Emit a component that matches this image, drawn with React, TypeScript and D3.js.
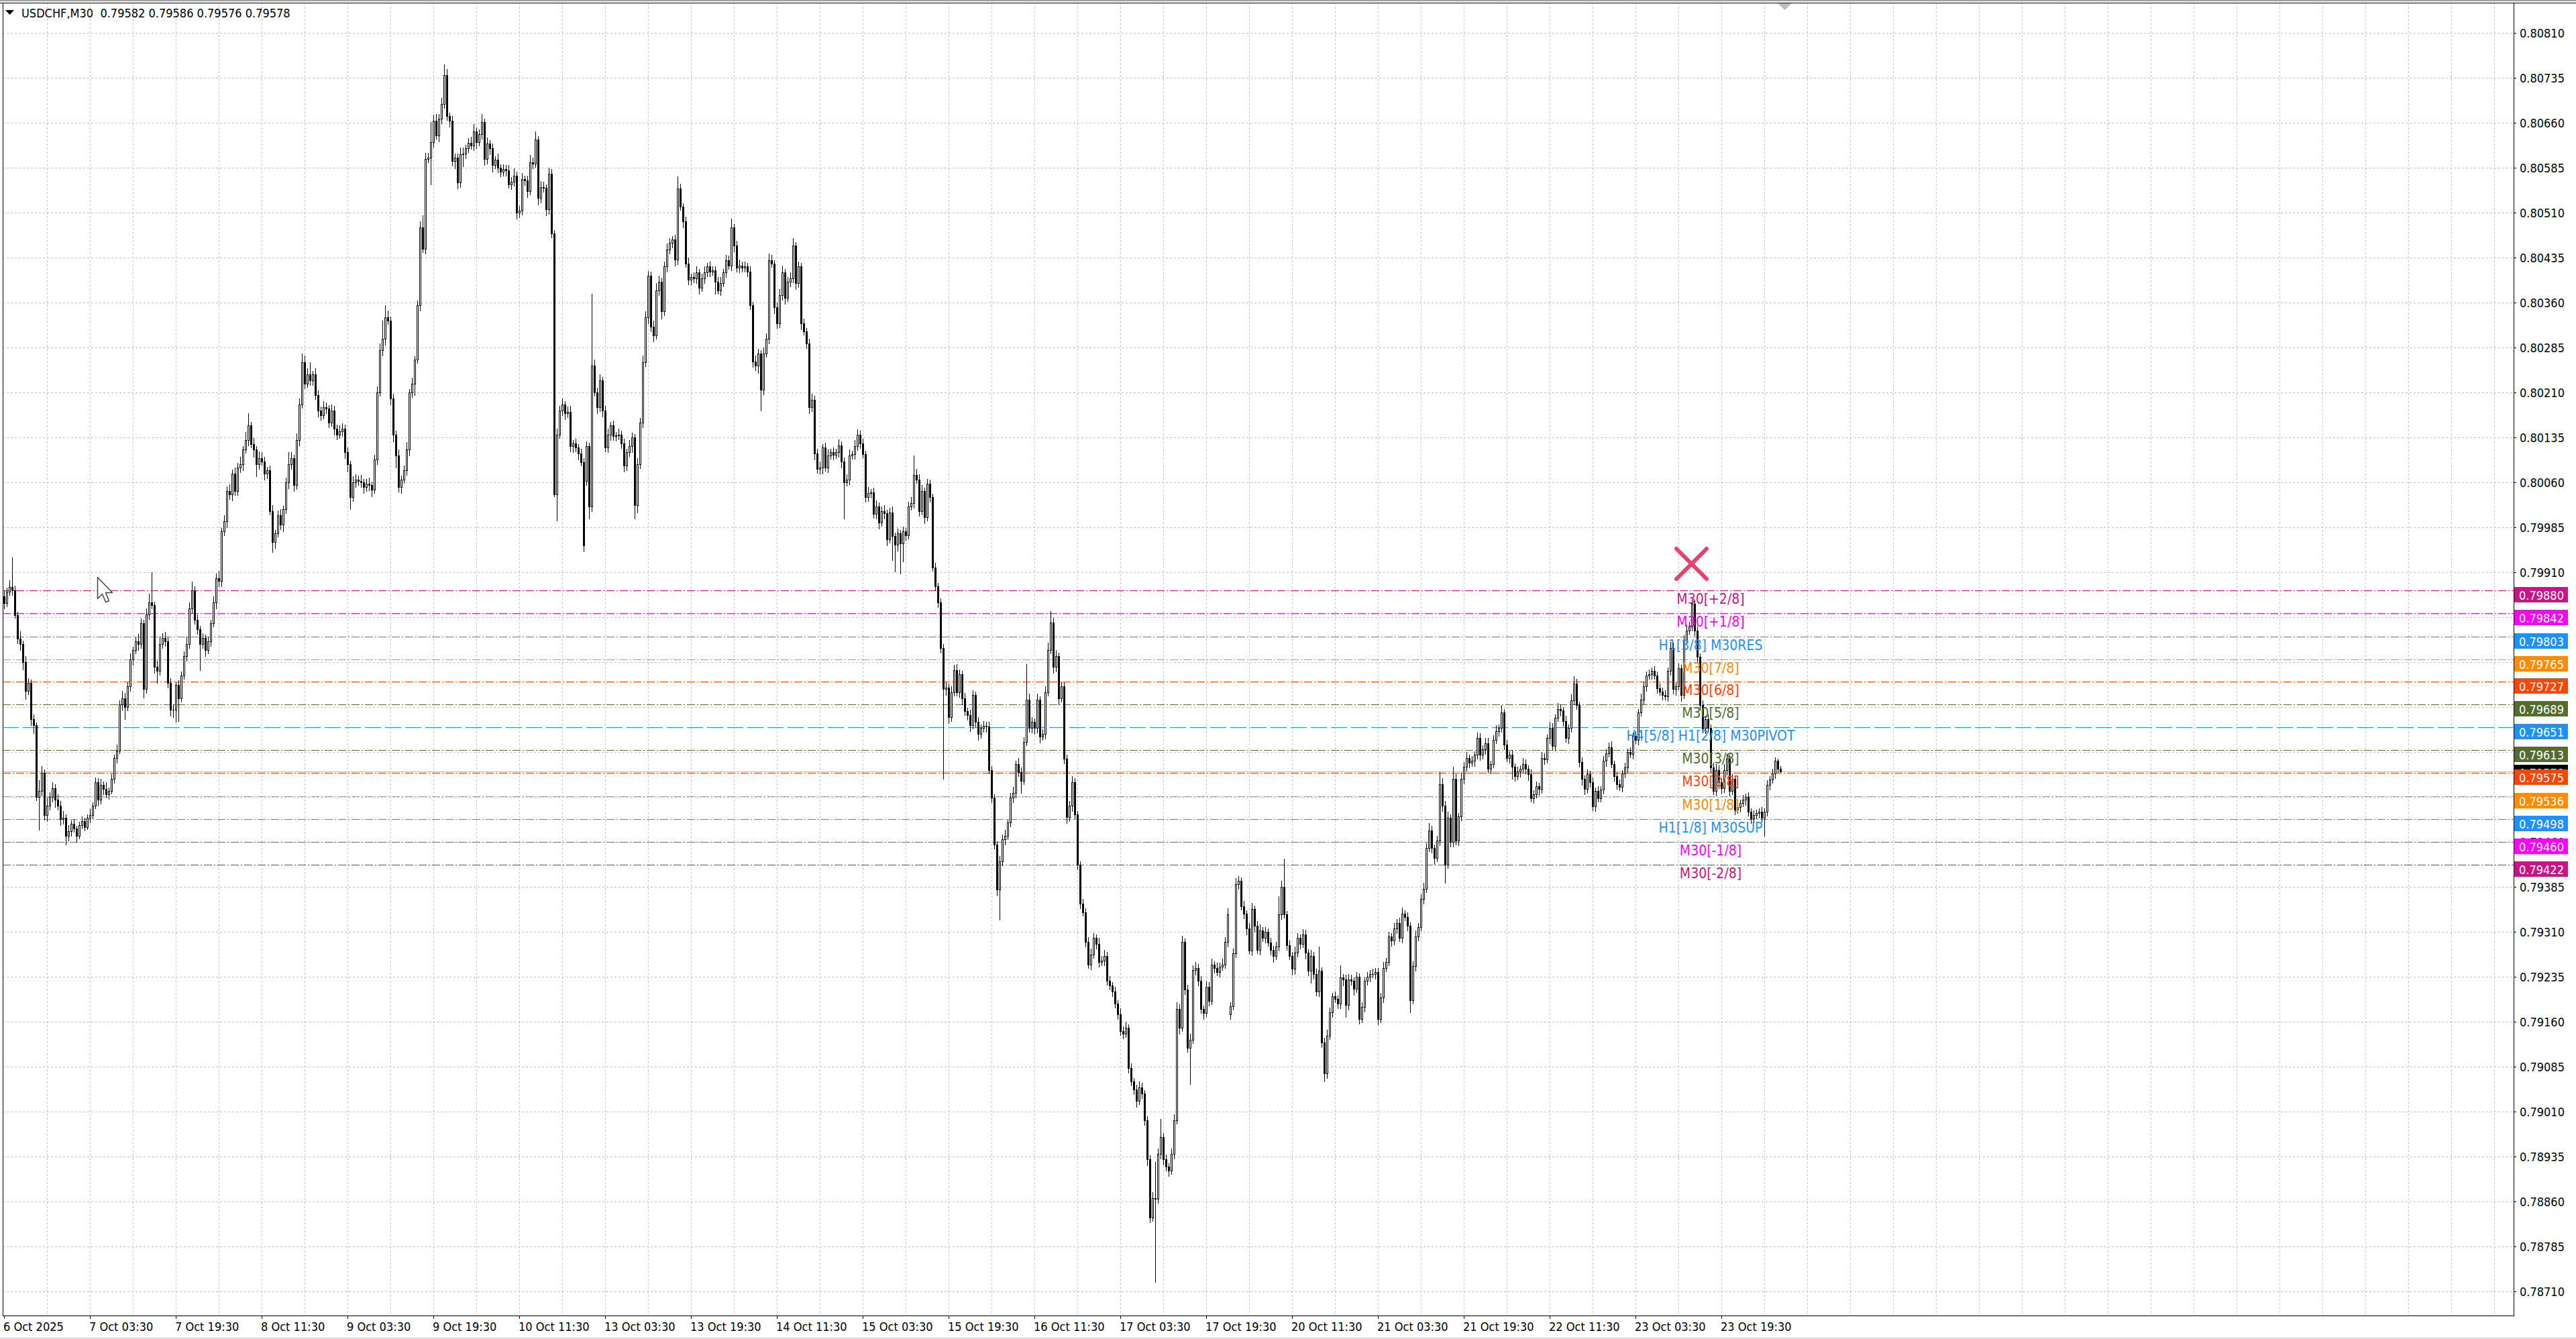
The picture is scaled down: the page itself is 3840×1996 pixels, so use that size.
import { useEffect, useRef } from 'react';
import * as d3 from 'd3';

// One M30 bar: [close, upper wick, lower wick], all in points (1 point = 0.00001)
type Candle = [number, number, number];

const oct06: Candle[] = [
  [79858, 10, 8], [79878, 6, 5], [79885, 12, 6], [79880, 50, 8], [79838, 8, 4], [79799, 6, 8], [79790, 12, 10], [79760, 6, 12],
  [79712, 10, 14], [79725, 8, 6], [79665, 6, 10], [79655, 8, 14], [79535, 4, 6], [79545, 18, 55], [79575, 12, 8], [79505, 6, 8],
  [79520, 14, 10], [79535, 8, 6], [79550, 10, 8], [79530, 6, 12], [79520, 10, 6], [79498, 8, 10], [79500, 12, 8], [79470, 6, 15],
  [79478, 10, 8],
];
const oct07: Candle[] = [
  [79490, 6, 8], [79482, 8, 5], [79470, 5, 10], [79488, 6, 4], [79495, 8, 6], [79485, 5, 6], [79500, 6, 4], [79505, 10, 8],
  [79520, 6, 6], [79560, 8, 4], [79530, 6, 10], [79555, 10, 6], [79548, 6, 8], [79540, 12, 6], [79545, 6, 8], [79565, 8, 4],
  [79600, 6, 6], [79612, 10, 8], [79690, 6, 4], [79700, 12, 10], [79685, 8, 20], [79720, 6, 6], [79765, 10, 8], [79780, 6, 10],
  [79795, 8, 6], [79790, 12, 10], [79825, 8, 6], [79715, 6, 14], [79840, 10, 6], [79860, 14, 8], [79855, 50, 6], [79752, 6, 10],
  [79745, 10, 20], [79790, 12, 6], [79800, 8, 6], [79795, 10, 8], [79725, 6, 8], [79680, 8, 10], [79680, 10, 12], [79722, 6, 20],
  [79700, 8, 38], [79738, 6, 6], [79770, 8, 6], [79790, 12, 8], [79850, 10, 6], [79880, 14, 8], [79830, 6, 6], [79815, 10, 8],
];
const oct08: Candle[] = [
  [79790, 6, 43], [79800, 8, 6], [79780, 6, 10], [79795, 8, 6], [79825, 6, 8], [79860, 10, 6], [79900, 8, 10], [79895, 12, 8],
  [79978, 6, 8], [79995, 10, 6], [80045, 8, 10], [80040, 12, 8], [80075, 6, 10], [80045, 10, 6], [80085, 8, 6], [80090, 12, 8],
  [80115, 6, 10], [80130, 14, 6], [80155, 20, 8], [80124, 6, 6], [80115, 10, 12], [80090, 6, 20], [80100, 12, 8], [80095, 10, 6],
  [80075, 8, 10], [80080, 6, 8], [80012, 8, 6], [79960, 10, 16], [79975, 6, 10], [80005, 8, 6], [79990, 10, 8], [80015, 6, 12],
  [80060, 8, 6], [80090, 20, 10], [80100, 10, 8], [80055, 6, 10], [80130, 12, 6], [80190, 10, 8], [80260, 15, 6], [80225, 12, 8],
  [80240, 10, 6], [80230, 20, 8], [80240, 6, 8], [80205, 10, 6], [80180, 8, 10], [80172, 6, 8], [80185, 10, 6], [80183, 8, 8],
];
const oct09: Candle[] = [
  [80160, 6, 8], [80180, 10, 6], [80150, 8, 10], [80140, 6, 8], [80145, 10, 6], [80150, 8, 8], [80110, 6, 10], [80090, 8, 12],
  [80035, 6, 20], [80060, 10, 6], [80065, 8, 8], [80062, 6, 6], [80060, 10, 8], [80052, 6, 10], [80058, 8, 6], [80055, 10, 8],
  [80048, 6, 12], [80098, 8, 6], [80210, 10, 8], [80280, 12, 6], [80300, 30, 8], [80335, 20, 10], [80330, 12, 6], [80200, 6, 10],
  [80140, 8, 12], [80105, 6, 20], [80052, 10, 8], [80065, 6, 10], [80080, 8, 6], [80115, 12, 8], [80210, 6, 10], [80225, 10, 8],
  [80265, 6, 20], [80355, 8, 6], [80485, 10, 8], [80450, 20, 6], [80600, 10, 8], [80602, 8, 6], [80628, 33, 45], [80663, 10, 8],
  [80639, 12, 6], [80667, 8, 10], [80691, 10, 8], [80739, 18, 6], [80671, 10, 6], [80663, 6, 10], [80596, 8, 8], [80602, 6, 12],
];
const oct10: Candle[] = [
  [80560, 6, 10], [80607, 12, 8], [80609, 10, 20], [80617, 6, 8], [80626, 8, 6], [80622, 10, 6], [80646, 12, 8], [80628, 6, 10],
  [80641, 8, 6], [80661, 14, 8], [80600, 6, 10], [80625, 10, 8], [80617, 6, 10], [80590, 8, 12], [80598, 6, 6], [80585, 10, 8],
  [80578, 6, 8], [80583, 8, 6], [80580, 6, 8], [80557, 10, 6], [80561, 8, 8], [80572, 12, 6], [80510, 6, 10], [80513, 8, 8],
  [80566, 10, 6], [80564, 6, 8], [80546, 8, 10], [80594, 12, 6], [80592, 8, 8], [80632, 14, 6], [80535, 6, 12], [80553, 10, 8],
  [80551, 8, 6], [80516, 6, 10], [80575, 10, 8], [80475, 8, 6], [80040, 6, 4], [80140, 10, 44], [80180, 8, 6], [80190, 10, 8],
  [80175, 6, 10], [80178, 8, 6], [80120, 10, 8], [80125, 6, 10], [80118, 8, 6], [80108, 6, 10], [80094, 8, 6], [79955, 6, 10],
];
const oct13: Candle[] = [
  [80120, 8, 6], [80020, 6, 20], [80255, 120, 8], [80210, 10, 6], [80185, 8, 10], [80230, 10, 6], [80180, 6, 10], [80118, 8, 6],
  [80140, 10, 8], [80155, 6, 10], [80137, 8, 6], [80138, 6, 8], [80140, 10, 6], [80125, 6, 8], [80088, 8, 10], [80110, 6, 8],
  [80120, 10, 6], [80135, 8, 10], [80022, 6, 22], [80090, 10, 12], [80160, 8, 6], [80260, 12, 8], [80335, 10, 6], [80405, 8, 10],
  [80320, 6, 8], [80305, 10, 10], [80380, 12, 6], [80395, 10, 8], [80345, 6, 12], [80420, 8, 6], [80448, 10, 8], [80460, 8, 6],
  [80465, 6, 8], [80432, 8, 10], [80550, 20, 8], [80520, 8, 6], [80495, 6, 10], [80425, 8, 6], [80398, 10, 8], [80402, 6, 8],
  [80400, 8, 6], [80410, 10, 8], [80385, 6, 10], [80400, 8, 6], [80410, 10, 8], [80420, 6, 6], [80412, 8, 8], [80414, 6, 6],
];
const oct14: Candle[] = [
  [80395, 6, 20], [80380, 8, 6], [80393, 10, 8], [80410, 6, 6], [80430, 10, 8], [80422, 8, 6], [80485, 15, 8], [80455, 6, 10],
  [80418, 8, 6], [80422, 10, 8], [80418, 6, 6], [80420, 8, 6], [80412, 6, 8], [80355, 8, 6], [80262, 6, 10], [80255, 10, 8],
  [80275, 8, 12], [80215, 6, 35], [80275, 10, 8], [80300, 8, 6], [80430, 12, 8], [80425, 10, 6], [80352, 6, 10], [80325, 8, 8],
  [80372, 10, 6], [80410, 12, 8], [80368, 6, 10], [80395, 8, 6], [80400, 10, 8], [80455, 12, 6], [80392, 6, 10], [80420, 8, 6],
  [80325, 6, 10], [80312, 8, 6], [80292, 6, 8], [80185, 8, 10], [80198, 10, 6], [80108, 6, 10], [80082, 8, 6], [80085, 10, 8],
  [80118, 6, 10], [80085, 8, 6], [80105, 10, 8], [80110, 6, 6], [80106, 8, 8], [80110, 6, 6], [80122, 10, 8], [80095, 6, 10],
];
const oct15: Candle[] = [
  [80060, 6, 60], [80065, 8, 6], [80105, 10, 8], [80107, 6, 6], [80120, 10, 8], [80140, 8, 6], [80125, 6, 8], [80107, 8, 6],
  [80035, 6, 8], [80042, 10, 6], [80043, 6, 8], [80007, 8, 6], [80020, 10, 8], [79993, 6, 10], [80012, 8, 6], [80008, 10, 8],
  [79965, 6, 10], [80010, 8, 6], [79970, 10, 40], [79956, 6, 45], [79975, 8, 10], [79958, 6, 50], [79978, 8, 30], [79972, 6, 8],
  [80020, 8, 6], [80025, 10, 6], [80072, 33, 8], [80065, 10, 6], [80012, 8, 8], [80045, 10, 6], [80002, 6, 10], [80058, 8, 6],
  [80035, 6, 8], [79918, 6, 6], [79886, 8, 6], [79860, 6, 8], [79784, 6, 8], [79715, 6, 150], [79718, 8, 10], [79668, 6, 10],
  [79710, 10, 6], [79747, 8, 6], [79710, 10, 6], [79740, 8, 8], [79700, 6, 10], [79678, 8, 6], [79672, 6, 8], [79655, 8, 10],
];
const oct16: Candle[] = [
  [79705, 8, 6], [79660, 6, 8], [79640, 8, 10], [79650, 6, 6], [79654, 8, 6], [79652, 6, 8], [79580, 8, 6], [79534, 6, 8],
  [79455, 6, 6], [79381, 6, 10], [79427, 10, 51], [79464, 8, 6], [79470, 10, 8], [79492, 6, 6], [79534, 8, 6], [79542, 10, 8],
  [79590, 6, 8], [79576, 10, 6], [79562, 8, 20], [79627, 8, 6], [79697, 60, 6], [79650, 10, 6], [79660, 8, 8], [79650, 6, 10],
  [79697, 10, 8], [79636, 6, 10], [79640, 8, 6], [79710, 10, 8], [79780, 12, 6], [79826, 19, 6], [79752, 8, 10], [79770, 10, 8],
  [79700, 6, 10], [79720, 8, 6], [79599, 6, 8], [79501, 6, 10], [79520, 8, 6], [79560, 10, 8], [79506, 6, 8], [79422, 6, 8],
  [79357, 6, 8], [79343, 8, 6], [79293, 6, 8], [79255, 8, 6], [79272, 10, 8], [79300, 8, 6], [79290, 6, 8], [79260, 10, 8],
];
const oct17: Candle[] = [
  [79262, 8, 6], [79270, 10, 8], [79228, 6, 6], [79220, 8, 6], [79210, 6, 8], [79190, 8, 6], [79172, 6, 8], [79144, 10, 6],
  [79140, 8, 8], [79150, 10, 6], [79083, 6, 8], [79060, 8, 6], [79047, 6, 8], [79028, 8, 10], [79050, 10, 6], [79040, 8, 8],
  [78996, 6, 8], [78931, 6, 10], [78833, 6, 8], [78866, 10, 6], [78864, 60, 138], [78940, 8, 6], [78968, 30, 8], [78930, 6, 8],
  [78918, 8, 6], [78912, 6, 10], [78940, 8, 6], [78996, 10, 8], [79181, 12, 6], [79150, 8, 10], [79293, 10, 6], [79214, 6, 8],
  [79116, 8, 6], [79130, 10, 60], [79246, 8, 6], [79250, 10, 8], [79228, 6, 8], [79181, 8, 6], [79175, 6, 10], [79218, 10, 6],
  [79195, 8, 8], [79255, 10, 6], [79250, 6, 8], [79243, 8, 6], [79252, 6, 8], [79255, 10, 6], [79293, 8, 6], [79339, 10, 8],
];
const oct20: Candle[] = [
  [79186, 6, 8], [79274, 8, 6], [79390, 10, 6], [79395, 8, 8], [79353, 6, 6], [79340, 8, 8], [79316, 6, 10], [79279, 8, 6],
  [79348, 10, 8], [79320, 6, 10], [79280, 8, 6], [79312, 10, 8], [79300, 6, 6], [79310, 8, 8], [79292, 6, 6], [79280, 8, 8],
  [79270, 6, 10], [79285, 8, 6], [79339, 30, 6], [79385, 10, 8], [79339, 47, 6], [79288, 6, 8], [79270, 8, 6], [79248, 6, 10],
  [79275, 10, 8], [79300, 8, 6], [79290, 6, 8], [79305, 10, 6], [79275, 8, 10], [79245, 6, 8], [79270, 10, 20], [79240, 6, 8],
  [79210, 8, 6], [79245, 40, 8], [79125, 6, 8], [79074, 8, 14], [79137, 10, 8], [79176, 8, 6], [79202, 6, 8], [79198, 8, 6],
  [79190, 6, 8], [79234, 20, 8], [79230, 6, 10], [79188, 8, 20], [79230, 10, 8], [79228, 8, 6], [79215, 6, 10], [79235, 8, 6],
];
const oct21: Candle[] = [
  [79165, 6, 8], [79185, 8, 6], [79228, 6, 8], [79235, 8, 6], [79240, 6, 8], [79240, 8, 6], [79243, 6, 8], [79165, 6, 10],
  [79200, 8, 6], [79250, 10, 8], [79260, 6, 6], [79302, 8, 6], [79295, 6, 8], [79316, 8, 6], [79325, 6, 8], [79300, 8, 6],
  [79340, 10, 8], [79335, 6, 6], [79320, 8, 8], [79196, 6, 20], [79253, 8, 6], [79302, 10, 8], [79318, 6, 6], [79365, 8, 6],
  [79382, 10, 8], [79450, 8, 6], [79479, 12, 6], [79450, 8, 8], [79433, 6, 10], [79462, 8, 6], [79556, 20, 8], [79520, 10, 8],
  [79422, 8, 30], [79500, 10, 6], [79460, 6, 8], [79565, 20, 8], [79462, 8, 6], [79502, 6, 8], [79565, 10, 6], [79585, 8, 8],
  [79600, 10, 6], [79592, 6, 8], [79595, 8, 6], [79605, 6, 8], [79633, 10, 6], [79605, 8, 8], [79615, 6, 6], [79625, 8, 8],
];
const oct22: Candle[] = [
  [79582, 8, 6], [79590, 6, 8], [79630, 8, 6], [79645, 10, 6], [79650, 6, 8], [79676, 12, 6], [79622, 6, 8], [79600, 8, 6],
  [79605, 6, 8], [79585, 8, 20], [79570, 6, 8], [79577, 8, 6], [79582, 6, 8], [79590, 10, 6], [79582, 8, 8], [79573, 6, 10],
  [79533, 8, 6], [79540, 6, 8], [79553, 8, 6], [79548, 6, 10], [79600, 10, 6], [79598, 8, 8], [79633, 6, 6], [79650, 10, 8],
  [79620, 8, 6], [79667, 6, 8], [79682, 10, 6], [79679, 8, 8], [79662, 6, 8], [79633, 8, 6], [79650, 6, 8], [79696, 10, 6],
  [79724, 12, 6], [79688, 8, 6], [79593, 6, 8], [79565, 8, 10], [79548, 6, 8], [79573, 8, 6], [79560, 6, 8], [79519, 8, 6],
  [79545, 6, 8], [79533, 8, 6], [79547, 6, 6], [79595, 8, 6], [79608, 6, 8], [79618, 8, 6], [79590, 10, 6], [79570, 6, 8],
];
const oct23: Candle[] = [
  [79556, 6, 8], [79552, 8, 6], [79574, 6, 8], [79584, 8, 6], [79610, 6, 8], [79607, 8, 6], [79637, 6, 8], [79630, 8, 6],
  [79676, 6, 8], [79697, 10, 6], [79720, 8, 6], [79738, 6, 8], [79740, 8, 6], [79745, 6, 8], [79738, 8, 6], [79716, 6, 8],
  [79711, 8, 6], [79705, 6, 8], [79703, 8, 6], [79745, 6, 8], [79784, 10, 6], [79715, 8, 8], [79720, 6, 10], [79750, 8, 6],
  [79705, 6, 10], [79797, 8, 6], [79813, 10, 6], [79819, 8, 6], [79857, 8, 6], [79813, 6, 8], [79769, 6, 8], [79688, 6, 8],
  [79649, 8, 6], [79665, 6, 8], [79650, 8, 6], [79584, 6, 8], [79545, 8, 6], [79580, 10, 8], [79560, 8, 10], [79549, 6, 8],
  [79580, 10, 6], [79599, 8, 8], [79545, 6, 8], [79565, 8, 6], [79514, 6, 8], [79518, 8, 6], [79525, 6, 8], [79530, 8, 6],
];
const oct24: Candle[] = [
  [79535, 6, 8], [79510, 8, 6], [79499, 6, 8], [79505, 8, 6], [79508, 6, 6], [79510, 6, 8], [79500, 8, 6], [79510, 6, 30],
  [79555, 8, 6], [79564, 6, 8], [79574, 8, 6], [79595, 6, 8], [79582, 4, 6], [79578, 4, 2],
];

const days = [oct06, oct07, oct08, oct09, oct10, oct13, oct14, oct15, oct16, oct17, oct20, oct21, oct22, oct23, oct24];
// first bar of each trading week opens on its own price (index into days)
const weekStarts = [0, 5, 10];
const weekOpens = [79870, 80062, 79172];

const priceTicks = [
  0.8081, 0.80735, 0.8066, 0.80585, 0.8051, 0.80435, 0.8036, 0.80285, 0.8021, 0.80135, 0.8006, 0.79985, 0.7991, 0.79835, 0.7976,
  0.79685, 0.7961, 0.79535, 0.7946, 0.79385, 0.7931, 0.79235, 0.7916, 0.79085, 0.7901, 0.78935, 0.7886, 0.78785, 0.7871,
];

// one label every 32 bars
const timeLabels = [
  '6 Oct 2025', '7 Oct 03:30', '7 Oct 19:30', '8 Oct 11:30', '9 Oct 03:30', '9 Oct 19:30', '10 Oct 11:30', '13 Oct 03:30',
  '13 Oct 19:30', '14 Oct 11:30', '15 Oct 03:30', '15 Oct 19:30', '16 Oct 11:30', '17 Oct 03:30', '17 Oct 19:30', '20 Oct 11:30',
  '21 Oct 03:30', '21 Oct 19:30', '22 Oct 11:30', '23 Oct 03:30', '23 Oct 19:30',
];

// Murrey math levels
const levelPrices = [0.7988, 0.79842, 0.79803, 0.79765, 0.79727, 0.79689, 0.79651, 0.79613, 0.79575, 0.79536, 0.79498, 0.7946, 0.79422];
const levelNames = [
  'M30[+2/8]', 'M30[+1/8]', 'H1[3/8] M30RES', 'M30[7/8]', 'M30[6/8]', 'M30[5/8]', 'H4[5/8] H1[2/8] M30PIVOT',
  'M30[3/8]', 'M30[2/8]', 'M30[1/8]', 'H1[1/8] M30SUP', 'M30[-1/8]', 'M30[-2/8]',
];

const symbol = 'USDCHF,M30';
const lastOhlc = [0.79582, 0.79586, 0.79576, 0.79578];
const bid = 0.79578;

// styles
const levelColors = [
  '#C71585', '#FF00FF', '#1E90FF', '#FF8C00', '#FF4500', '#556B2F', '#1E90FF',
  '#556B2F', '#FF4500', '#FF8C00', '#1E90FF', '#FF00FF', '#C71585',
];
const FONT = "'DejaVu Sans Condensed', 'Liberation Sans', Arial, sans-serif";

export default function App() {
  const ref = useRef<SVGSVGElement>(null);

  useEffect(() => {
    if (!ref.current) return;
    const svg = d3.select(ref.current);
    svg.selectAll('*').remove();

    const W = 3840;
    const H = 1996;
    const left = 4;
    const top = 4;
    const right = 3747;
    const bottom = 1961;

    // Build OHLC from the daily lists
    const bars: { o: number; h: number; l: number; c: number }[] = [];
    let prev = weekOpens[0];
    days.forEach((day, di) => {
      day.forEach(([c, up, dn], j) => {
        const w = weekStarts.indexOf(di);
        const o = j === 0 && w >= 0 ? weekOpens[w] : prev;
        bars.push({
          o: o / 1e5,
          c: c / 1e5,
          h: (Math.max(o, c) + up) / 1e5,
          l: (Math.min(o, c) - dn) / 1e5,
        });
        prev = c;
      });
    });

    // Scales
    const x = d3.scaleLinear().domain([0, 935]).range([6, 3746]);
    const y = d3.scaleLinear().domain([0.7871, 0.8081]).range([1925, 49]);
    const py = (p: number) => Math.round(y(p));

    svg.append('rect').attr('width', W).attr('height', H).attr('fill', '#ffffff');
    svg.append('rect').attr('width', W).attr('height', 2).attr('fill', '#a0a0a0');
    svg.append('rect').attr('y', H - 3).attr('width', W).attr('height', 3).attr('fill', '#e4e4e4');

    // Grid lines
    const grid = svg.append('g').attr('shape-rendering', 'crispEdges');
    grid
      .selectAll('.vgrid')
      .data(d3.range(16, 936, 16))
      .join('line')
      .attr('x1', (d) => Math.round(x(d)) + 0.5)
      .attr('x2', (d) => Math.round(x(d)) + 0.5)
      .attr('y1', top)
      .attr('y2', bottom)
      .attr('stroke', '#c0c0c0')
      .attr('stroke-dasharray', '3,3');
    grid
      .selectAll('.hgrid')
      .data(priceTicks)
      .join('line')
      .attr('x1', left)
      .attr('x2', right)
      .attr('y1', (d) => py(d) + 0.5)
      .attr('y2', (d) => py(d) + 0.5)
      .attr('stroke', '#c0c0c0')
      .attr('stroke-dasharray', '3,3');

    // Bid line
    grid
      .append('line')
      .attr('x1', left)
      .attr('x2', right)
      .attr('y1', py(bid) + 0.5)
      .attr('y2', py(bid) + 0.5)
      .attr('stroke', '#b8b8b8');

    // Level lines
    grid
      .selectAll('.level')
      .data(levelPrices)
      .join('line')
      .attr('x1', left)
      .attr('x2', right)
      .attr('y1', (d) => py(d) + 0.5)
      .attr('y2', (d) => py(d) + 0.5)
      .attr('stroke', (d, i) => levelColors[i])
      .attr('stroke-width', 1.4)
      .attr('stroke-dasharray', (d, i) => (i === 6 ? '24,6' : '12,3,2,3'));

    // Candles
    const cg = svg.append('g').attr('shape-rendering', 'crispEdges');
    const cx = (i: number) => Math.round(x(i));
    cg.selectAll('.wick')
      .data(bars)
      .join('rect')
      .attr('x', (d, i) => cx(i))
      .attr('y', (d) => py(d.h))
      .attr('width', 1)
      .attr('height', (d) => Math.max(1, py(d.l) - py(d.h) + 1))
      .attr('fill', '#000');
    const bodyTop = (d: { o: number; c: number }) => py(Math.max(d.o, d.c));
    const bodyH = (d: { o: number; c: number }) => Math.max(1, py(Math.min(d.o, d.c)) - bodyTop(d) + 1);
    cg.selectAll('.body')
      .data(bars)
      .join('rect')
      .attr('x', (d, i) => cx(i) - 1)
      .attr('y', bodyTop)
      .attr('width', 3)
      .attr('height', bodyH)
      .attr('fill', '#000');
    cg.selectAll('.hollow')
      .data(bars.map((b, i) => ({ ...b, i })).filter((b) => b.c > b.o && bodyH(b) > 2))
      .join('rect')
      .attr('x', (d) => cx(d.i))
      .attr('y', (d) => bodyTop(d) + 1)
      .attr('width', 1)
      .attr('height', (d) => bodyH(d) - 2)
      .attr('fill', '#fff');

    // Level names on the chart
    svg
      .append('g')
      .selectAll('text')
      .data(levelNames)
      .join('text')
      .attr('x', 2550)
      .attr('y', (d, i) => py(levelPrices[i]) + 20)
      .attr('text-anchor', 'middle')
      .style('font-family', FONT)
      .style('font-size', '21px')
      .style('fill', (d, i) => levelColors[i])
      .text((d) => d);

    // Cross marker above the high
    const mark = svg.append('g').attr('stroke', '#e9416a').attr('stroke-width', 6).attr('stroke-linecap', 'round');
    mark.append('line').attr('x1', 2499).attr('y1', 818).attr('x2', 2544).attr('y2', 863);
    mark.append('line').attr('x1', 2544).attr('y1', 818).attr('x2', 2499).attr('y2', 863);

    // Frame
    const frame = svg.append('g').attr('stroke', '#000').attr('shape-rendering', 'crispEdges');
    frame.append('line').attr('x1', 0).attr('x2', W).attr('y1', top + 0.5).attr('y2', top + 0.5);
    frame.append('line').attr('x1', left + 0.5).attr('x2', left + 0.5).attr('y1', top).attr('y2', bottom);
    frame.append('line').attr('x1', right + 0.5).attr('x2', right + 0.5).attr('y1', top).attr('y2', bottom + 1);
    frame.append('line').attr('x1', left).attr('x2', right + 1).attr('y1', bottom + 0.5).attr('y2', bottom + 0.5);

    // Chart shift marker
    svg.append('polygon').attr('points', '2650,5 2671,5 2660.5,15').attr('fill', '#bdbdbd');

    // Price axis
    const axisY = svg.append('g');
    axisY
      .selectAll('line')
      .data(priceTicks)
      .join('line')
      .attr('x1', right)
      .attr('x2', right + 4)
      .attr('y1', (d) => py(d) + 0.5)
      .attr('y2', (d) => py(d) + 0.5)
      .attr('stroke', '#000')
      .attr('shape-rendering', 'crispEdges');
    axisY
      .selectAll('text')
      .data(priceTicks)
      .join('text')
      .attr('x', 3756)
      .attr('y', (d) => py(d) + 6.5)
      .style('font-family', FONT)
      .style('font-size', '18px')
      .style('fill', '#000')
      .text((d) => d.toFixed(5));

    // Bid label (mostly hidden behind the 2/8 box)
    svg
      .append('rect')
      .attr('x', right + 1)
      .attr('y', py(bid) - 10)
      .attr('width', 80)
      .attr('height', 23)
      .attr('fill', '#000');
    svg
      .append('text')
      .attr('x', 3755)
      .attr('y', py(bid) + 8.5)
      .style('font-family', FONT)
      .style('font-size', '18px')
      .style('fill', '#fff')
      .text(bid.toFixed(5));

    // Level price boxes
    const boxes = svg
      .append('g')
      .selectAll('g')
      .data(levelPrices)
      .join('g')
      .attr('transform', (d) => `translate(${right + 1},${py(d) - 5})`);
    boxes
      .append('rect')
      .attr('width', 80)
      .attr('height', 23)
      .attr('fill', (d, i) => levelColors[i]);
    boxes
      .append('text')
      .attr('x', 7)
      .attr('y', 18.5)
      .style('font-family', FONT)
      .style('font-size', '18px')
      .style('fill', '#fff')
      .text((d) => d.toFixed(5));

    // Time axis
    const axisX = svg.append('g');
    axisX
      .selectAll('line')
      .data(timeLabels)
      .join('line')
      .attr('x1', (d, i) => cx(i * 32) + 0.5)
      .attr('x2', (d, i) => cx(i * 32) + 0.5)
      .attr('y1', bottom)
      .attr('y2', bottom + 5)
      .attr('stroke', '#000')
      .attr('shape-rendering', 'crispEdges');
    axisX
      .selectAll('text')
      .data(timeLabels)
      .join('text')
      .attr('x', (d, i) => cx(i * 32) - 1)
      .attr('y', 1983.5)
      .style('font-family', FONT)
      .style('font-size', '18px')
      .style('fill', '#000')
      .text((d) => d);

    // Title
    svg.append('polygon').attr('points', '8,15 21,15 14.5,22').attr('fill', '#000');
    svg
      .append('text')
      .attr('x', 32)
      .attr('y', 26)
      .style('font-family', FONT)
      .style('font-size', '18px')
      .style('white-space', 'pre')
      .style('fill', '#000')
      .text(`${symbol}  ${lastOhlc.map((v) => v.toFixed(5)).join(' ')}`);

    // Mouse pointer left on the chart
    svg
      .append('polygon')
      .attr('points', '0,0 0,32 7,25 12,37 17,35 12,23 22,23')
      .attr('transform', 'translate(145.5,860.5)')
      .attr('fill', '#fff')
      .attr('stroke', '#444')
      .attr('stroke-width', 1.5)
      .attr('stroke-linejoin', 'round');
  }, []);

  return (
    <svg
      ref={ref}
      width={3840}
      height={1996}
      style={{ position: 'absolute', left: 0, top: 0, display: 'block' }}
    />
  );
}
